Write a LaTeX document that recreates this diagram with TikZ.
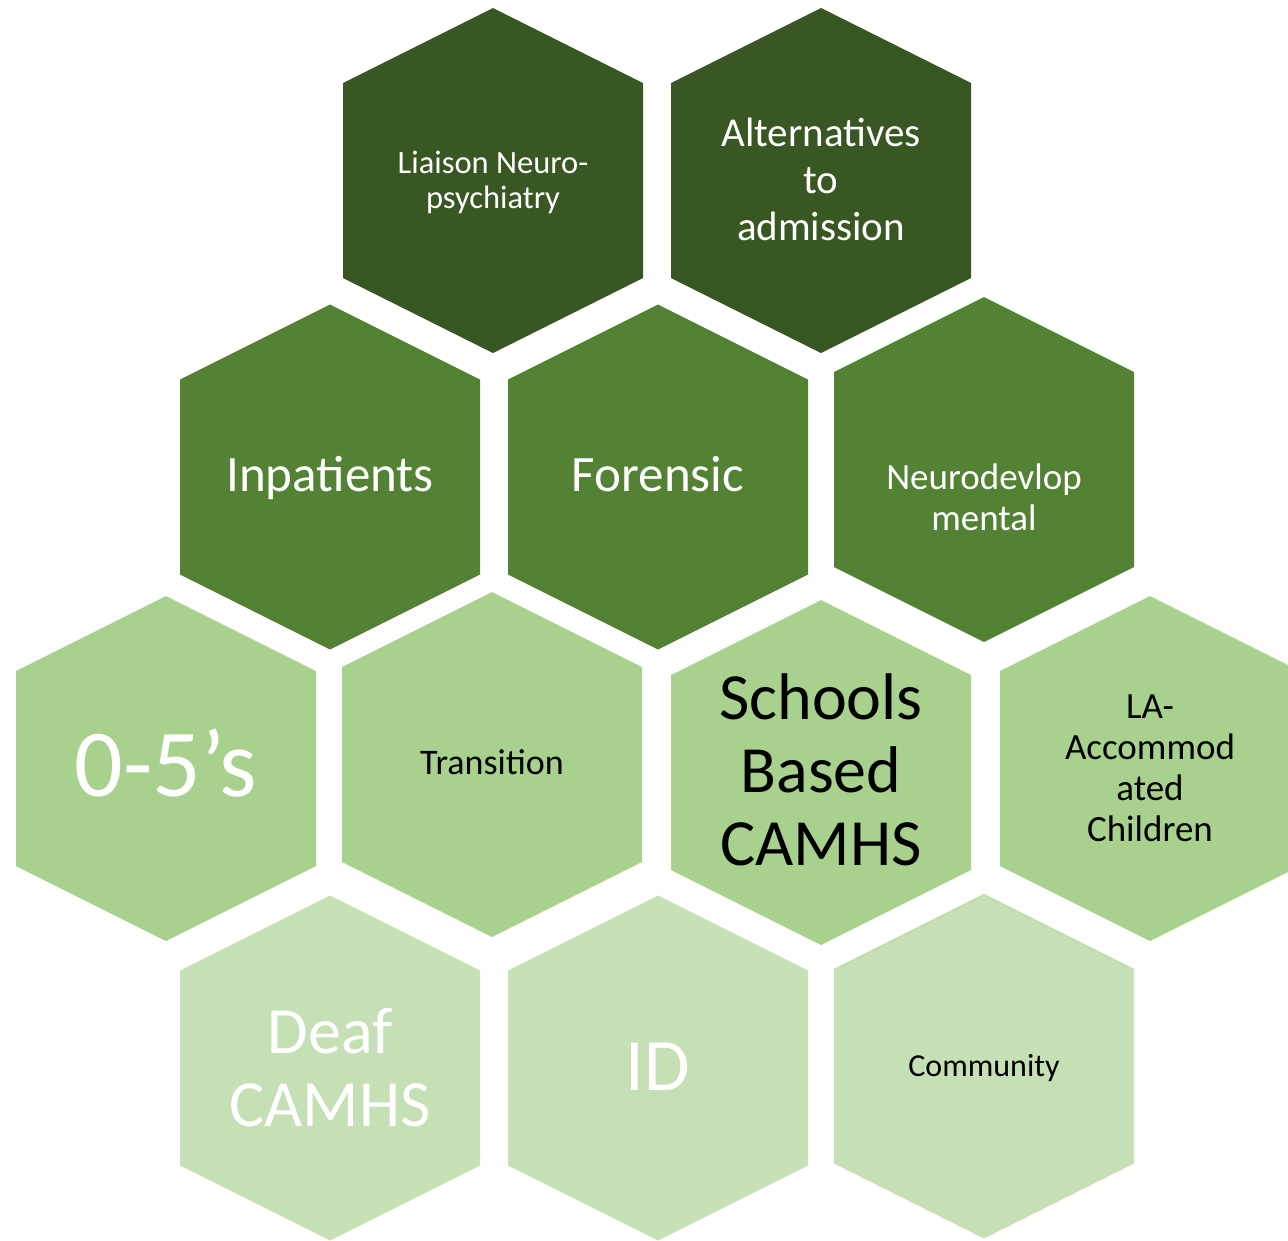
\documentclass[tikz,border=0pt]{standalone}
\usepackage{fontspec}
\setmainfont{Carlito}
\definecolor{hexdark}{HTML}{385723}
\definecolor{hexmid}{HTML}{548235}
\definecolor{hexlight}{HTML}{A9D18E}
\definecolor{hexpale}{HTML}{C5E0B4}
\tikzset{
  hexlabel/.style={align=center, inner sep=0pt},
}
% #1 name, #2 hexagon centre, #3 fill, #4 text colour, #5 font, #6 text, #7 label position, #8 anchor
\newcommand\hexcell[8]{%
  \fill[#3, shift={(#2)}] (0,-172.5) -- (150,-97.5) -- (150,97.5) -- (0,172.5) -- (-150,97.5) -- (-150,-97.5) -- cycle;
  \node[hexlabel, text=#4, font=#5, anchor=#8] (#1) at (#7) {#6};
}
\begin{document}
\begin{tikzpicture}[x=1pt, y=-1pt]
\useasboundingbox (0,0) rectangle (1288,1240);
\clip (0,0) rectangle (1288,1240);
% row 1
\hexcell{liaison}{493,180.5}{hexdark}{white}{\fontsize{32.5}{35}\selectfont}{Liaison Neuro-\\psychiatry}{493,182.5}{center}
\hexcell{alternatives}{821,180.5}{hexdark}{white}{\fontsize{41}{47}\selectfont}{Alternatives\\to\\admission}{821,179.5}{center}
% row 2
\hexcell{inpatients}{330,477}{hexmid}{white}{\fontsize{51}{60}\selectfont}{Inpatients}{330,491}{base}
\hexcell{forensic}{658,477}{hexmid}{white}{\fontsize{51}{60}\selectfont}{Forensic}{658,491}{base}
\hexcell{neurodev}{984,469.5}{hexmid}{white}{\fontsize{37}{41}\selectfont}{Neurodevlop\\mental}{984,497}{center}
% row 3
\hexcell{zerofive}{166,768.5}{hexlight}{white}{\fontsize{96}{110}\selectfont}{0-5’s}{166,796}{base}
\hexcell{transition}{492,764.5}{hexlight}{black}{\fontsize{36}{41}\selectfont}{Transition}{492,774.5}{base}
\hexcell{schools}{821,772.5}{hexlight}{black}{\fontsize{66}{73}\selectfont}{Schools\\Based\\CAMHS}{821,770}{center}
\hexcell{la}{1150,768.5}{hexlight}{black}{\fontsize{37}{41}\selectfont}{LA-\\Accommod\\ated\\Children}{1150,768}{center}
% row 4
\hexcell{deaf}{330,1068}{hexpale}{white}{\fontsize{66}{73}\selectfont}{Deaf\\CAMHS}{330,1068}{center}
\hexcell{id}{658,1068}{hexpale}{white}{\fontsize{74}{80}\selectfont}{ID}{658,1090}{base}
\hexcell{community}{984,1066}{hexpale}{black}{\fontsize{32}{38}\selectfont}{Community}{984,1076.5}{base}
\end{tikzpicture}
\end{document}
